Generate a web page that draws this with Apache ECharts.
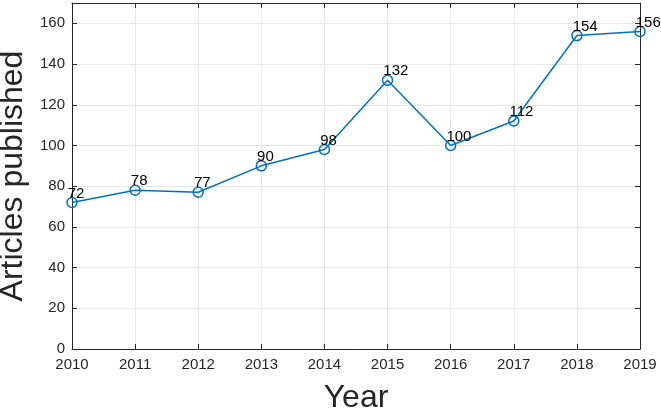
<!DOCTYPE html>
<html>
<head>
<meta charset="utf-8">
<script src="https://cdn.jsdelivr.net/npm/echarts@6/dist/echarts.min.js"></script>
<style>
  html, body { margin: 0; padding: 0; background: #fff; }
  #chart { width: 661px; height: 413px; }
</style>
</head>
<body>
<div id="chart"></div>
<script>
// 数据
const years = [2010, 2011, 2012, 2013, 2014, 2015, 2016, 2017, 2018, 2019]
const articles = [72, 78, 77, 90, 98, 132, 100, 112, 154, 156]

const points = years.map((y, i) => [y, articles[i]])

const font = 'Liberation Sans, Arial, sans-serif'
const cs = echarts.init(document.getElementById('chart'))

// 坐标轴公共样式（MATLAB 风格：刻度朝内、外框）
const lineStyle = { color: '#262626', width: 1 }
const tickIn = { show: true, inside: true, length: 5, lineStyle: lineStyle }

const option = {
    animation: false,
    grid: { left: 72, right: 21, top: 3, bottom: 64, outerBoundsMode: 'none', containLabel: false },
    xAxis: [
        {
            type: 'value',
            min: 2010,
            max: 2019,
            interval: 1,
            name: 'Year',
            nameLocation: 'middle',
            nameGap: 33,
            nameTextStyle: { fontSize: 32, color: '#262626', fontFamily: font },
            axisLine: { show: true, lineStyle: lineStyle },
            axisTick: tickIn,
            axisLabel: { fontSize: 15, color: '#262626', fontFamily: font, margin: 8, formatter: v => String(v) },
            splitLine: { show: true, lineStyle: { color: '#e6e6e6' } }
        },
        {
            type: 'value',
            position: 'top',
            min: 2010,
            max: 2019,
            interval: 1,
            axisLine: { show: true, onZero: false, lineStyle: lineStyle },
            axisTick: tickIn,
            axisLabel: { show: false },
            splitLine: { show: false }
        }
    ],
    yAxis: [
        {
            type: 'value',
            min: 0,
            max: 170,
            interval: 20,
            name: 'Articles published',
            nameLocation: 'middle',
            nameGap: 38,
            nameTextStyle: { fontSize: 32, color: '#262626', fontFamily: font },
            axisLine: { show: true, lineStyle: lineStyle },
            axisTick: tickIn,
            axisLabel: { fontSize: 15, color: '#262626', fontFamily: font, margin: 7, showMaxLabel: false },
            splitLine: { show: true, lineStyle: { color: '#e6e6e6' } }
        },
        {
            type: 'value',
            position: 'right',
            min: 0,
            max: 170,
            interval: 20,
            axisLine: { show: true, onZero: false, lineStyle: lineStyle },
            axisTick: tickIn,
            axisLabel: { show: false },
            splitLine: { show: false }
        }
    ],
    series: [
        {
            type: 'line',
            data: points,
            symbol: 'circle',
            symbolSize: 10,
            lineStyle: { color: '#0072BD', width: 1.5 },
            itemStyle: { color: 'rgba(255,255,255,0)', borderColor: '#0072BD', borderWidth: 1.5 },
            label: {
                show: true,
                position: 'right',
                distance: -5,
                offset: [-5, -9],
                fontSize: 15,
                color: '#000',
                fontFamily: font,
                formatter: p => String(p.value[1])
            }
        }
    ]
}
cs.setOption(option)
</script>
</body>
</html>
